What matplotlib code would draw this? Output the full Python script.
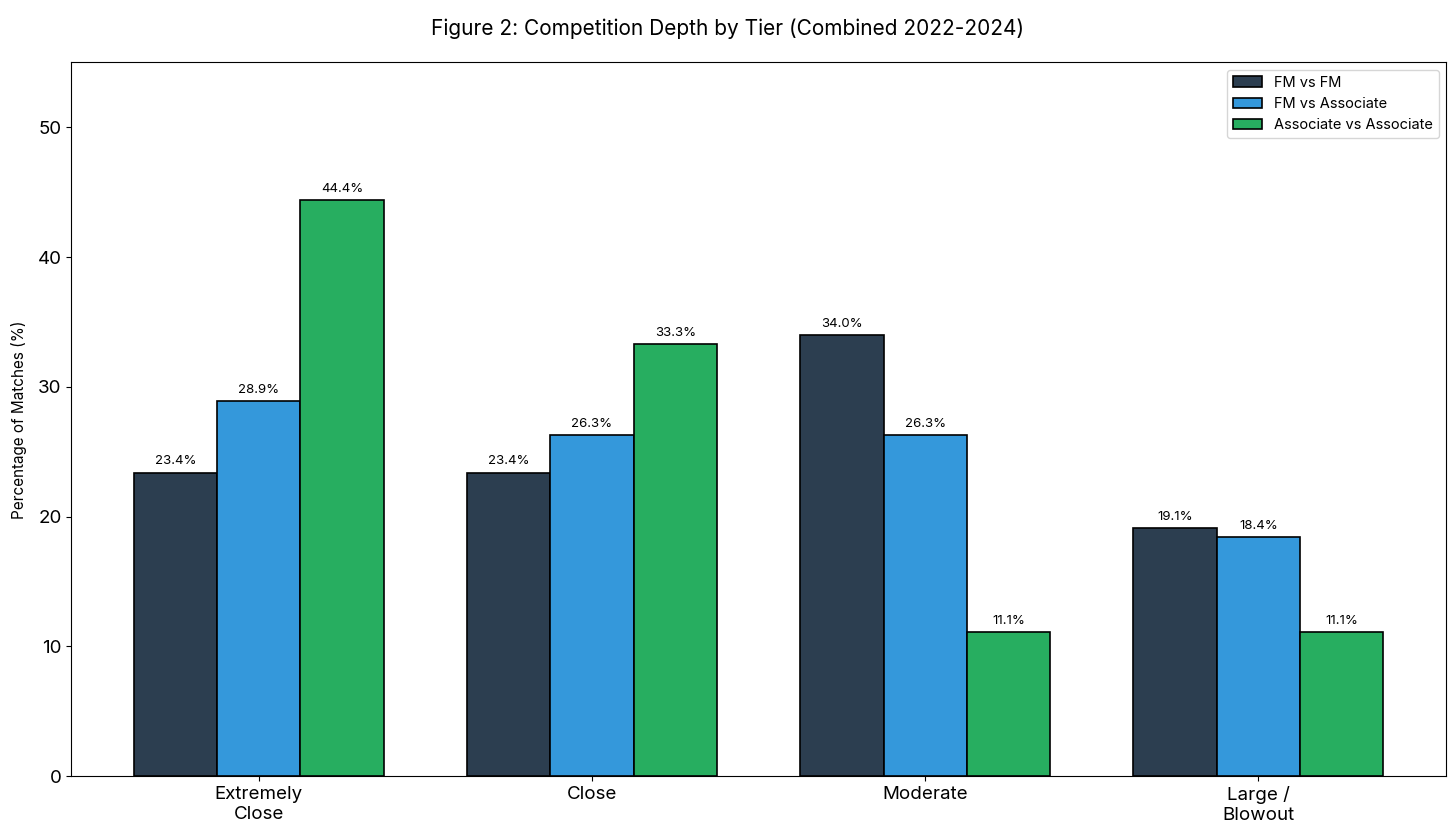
import numpy as np
import matplotlib
matplotlib.use('Agg')
import matplotlib.pyplot as plt

plt.rcParams['font.family'] = ['Inter', 'DejaVu Sans']

# data
tiers = ['Extremely\nClose', 'Close', 'Moderate', 'Large /\nBlowout']
series = ['FM vs FM', 'FM vs Associate', 'Associate vs Associate']
fm_fm = [23.4, 23.4, 34.0, 19.1]
fm_assoc = [28.9, 26.3, 26.3, 18.4]
assoc_assoc = [44.4, 33.3, 11.1, 11.1]
colors = ['#2c3e50', '#3498db', '#27ae60']

fig = plt.figure(figsize=(14.56, 8.32), dpi=100)
ax = fig.add_axes([0.049, 0.067, 0.944, 0.858])

idx = np.arange(len(tiers))
width = 0.25
for i, (vals, name) in enumerate(zip([fm_fm, fm_assoc, assoc_assoc], series)):
    bars = ax.bar(idx + (i - 1) * width, vals, width, label=name,
                  color=colors[i], edgecolor='black', linewidth=1.2)
    for b, v in zip(bars, vals):
        ax.text(b.get_x() + b.get_width() / 2, v + 0.4, '%.1f%%' % v,
                ha='center', va='bottom', fontsize=9.5)

ax.set_ylim(0, 55)
ax.set_xticks(idx)
ax.set_xticklabels(tiers, fontsize=13.5)
ax.tick_params(axis='y', labelsize=13.5)
ax.set_ylabel('Percentage of Matches (%)', fontsize=11, labelpad=8)
fig.suptitle('Figure 2: Competition Depth by Tier (Combined 2022-2024)', fontsize=15, y=0.978)
ax.legend(loc='upper right', fontsize=10.5)

fig.savefig('out.png', dpi=100)
plt.close()
